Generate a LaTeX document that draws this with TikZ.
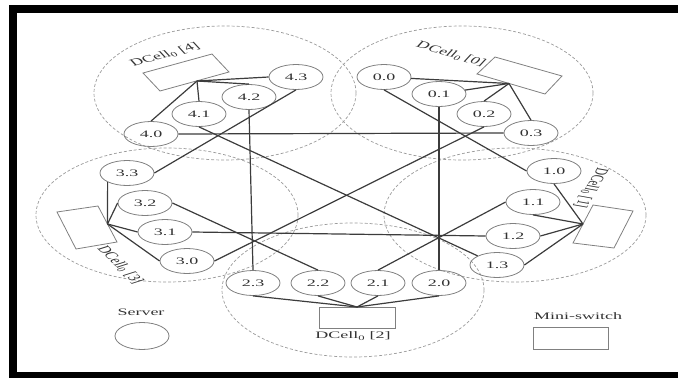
\documentclass[tikz,border=0pt]{standalone}
\usepackage{fontspec}
\setmainfont{Liberation Serif}
\usepackage{graphicx}
\usetikzlibrary{shapes.geometric}
\definecolor{linkgray}{HTML}{3C3C3C}
\definecolor{srvgray}{HTML}{808080}
\definecolor{cellgray}{HTML}{9A9A9A}
\definecolor{txtgray}{HTML}{333333}
\newcommand{\sqz}[1]{\scalebox{1}[0.55]{#1}}
\newcommand{\sqzrot}[2]{\scalebox{1}[0.55]{\rotatebox{#1}{#2}}}
\begin{document}
\begin{tikzpicture}[x=1pt,y=-1pt,
  srv/.style={ellipse, draw=srvgray, line width=0.8pt, minimum width=54pt, minimum height=25pt, inner sep=0pt, text=txtgray, font=\fontsize{18}{20}\selectfont},
  cellc/.style={ellipse, draw=cellgray, dash pattern=on 3pt off 2pt, line width=0.7pt, minimum width=262pt, minimum height=134pt, inner sep=0pt},
  swbox/.style={draw=srvgray, line width=0.8pt},
  link/.style={draw=linkgray, line width=1.2pt},
  lbl/.style={text=txtgray, font=\fontsize{18}{20}\selectfont, inner sep=0pt}]
\useasboundingbox (0,0) rectangle (678,378);
% frame
\fill[black] (9,5) rectangle (678,13);
\fill[black] (9,5) rectangle (17,378);
\fill[black] (9,372) rectangle (678,378);
% cells
\node[cellc] (c4) at (225,93) {};
\node[cellc] (c0) at (462,93) {};
\node[cellc] (c1) at (515,215) {};
\node[cellc] (c3) at (167,215) {};
\node[cellc] (c2) at (353,290) {};
% switches
\draw[swbox] (143,73) -- (212,54) -- (229,72) -- (160,91) -- cycle;
\coordinate (sw4) at (197,81);
\draw[swbox] (477,74) -- (495,57) -- (562,76) -- (545,94) -- cycle;
\coordinate (sw0) at (509,83.5);
\draw[swbox] (593,205) -- (633,211) -- (614,248) -- (573,243) -- cycle;
\coordinate (sw1) at (583,224);
\draw[swbox] (57,212) -- (98,206) -- (117,242) -- (76,249) -- cycle;
\coordinate (sw3) at (107.5,224);
\draw[swbox] (319,307) rectangle (395,328);
\coordinate (sw2) at (357,307);
% servers
\node[srv] (s40) at (151,134) {\sqz{4.0}};
\node[srv] (s41) at (199,114) {\sqz{4.1}};
\node[srv] (s42) at (249,97) {\sqz{4.2}};
\node[srv] (s43) at (296,77) {\sqz{4.3}};
\node[srv] (s00) at (384,77) {\sqz{0.0}};
\node[srv] (s01) at (439,94) {\sqz{0.1}};
\node[srv] (s02) at (484,114) {\sqz{0.2}};
\node[srv] (s03) at (531,133) {\sqz{0.3}};
\node[srv] (s10) at (554,171) {\sqz{1.0}};
\node[srv] (s11) at (533,202) {\sqz{1.1}};
\node[srv] (s12) at (513,236) {\sqz{1.2}};
\node[srv] (s13) at (497,265) {\sqz{1.3}};
\node[srv] (s20) at (439,283) {\sqz{2.0}};
\node[srv] (s21) at (378,283) {\sqz{2.1}};
\node[srv] (s22) at (318,283) {\sqz{2.2}};
\node[srv] (s23) at (253,283) {\sqz{2.3}};
\node[srv] (s30) at (187,261) {\sqz{3.0}};
\node[srv] (s31) at (165,232) {\sqz{3.1}};
\node[srv] (s32) at (145,203) {\sqz{3.2}};
\node[srv] (s33) at (127,173) {\sqz{3.3}};
% switch links
\draw[link] (sw0) -- (s00);
\draw[link] (sw0) -- (s01);
\draw[link] (sw0) -- (s02.north);
\draw[link] (sw0) -- (s03.north);
\draw[link] (sw4) -- (s40.north);
\draw[link] (sw4) -- (s41.north);
\draw[link] (sw4) -- (s42.north);
\draw[link] (sw4) -- (s43.west);
\draw[link] (sw1) -- (s10.south);
\draw[link] (sw1) -- (s11.south);
\draw[link] (sw1) -- (s12.east);
\draw[link] (sw1) -- (s13.east);
\draw[link] (sw3) -- (s33.south west);
\draw[link] (sw3) -- (s32.west);
\draw[link] (sw3) -- (s31.west);
\draw[link] (sw3) -- (s30.west);
\draw[link] (sw2) -- (s20.south);
\draw[link] (sw2) -- (s21.south);
\draw[link] (sw2) -- (s22.south);
\draw[link] (sw2) -- (s23.south);
% level-1 links
\draw[link] (s00.south) -- (s10.west);
\draw[link] (s01.south) -- (s20.north);
\draw[link] (s02.south) -- (s30.east);
\draw[link] (s03.west) -- (s40.east);
\draw[link] (s11.west) -- (s21.north);
\draw[link] (s12.west) -- (s31.east);
\draw[link] (s13.north west) -- (s41.south);
\draw[link] (s22.north) -- (s32.east);
\draw[link] (s23.north) -- (s42.south);
\draw[link] (s33.east) -- (s43.south);
% cell labels
\node[lbl] (l4) at (165,55) {\sqzrot{27}{DCell\textsubscript{0} [4]}};
\node[lbl] (l0) at (451,54) {\sqzrot{-27}{DCell\textsubscript{0} [0]}};
\node[lbl] (l1) at (591,188) {\sqzrot{-108}{DCell\textsubscript{0} [1]}};
\node[lbl] (l3) at (120,265) {\sqzrot{-60}{DCell\textsubscript{0} [3]}};
\node[lbl] (l2) at (353,336) {\sqz{DCell\textsubscript{0} [2]}};
% legend
\node[lbl] (tsrv) at (141,312) {\sqz{Server}};
\node[srv, minimum height=27pt] (legsrv) at (142,336) {};
\node[lbl] (tsw) at (578,316) {\sqz{Mini-switch}};
\node[draw=srvgray, line width=0.8pt, minimum width=75pt, minimum height=22pt, inner sep=0pt] (legsw) at (570.5,338) {};
\end{tikzpicture}
\end{document}
